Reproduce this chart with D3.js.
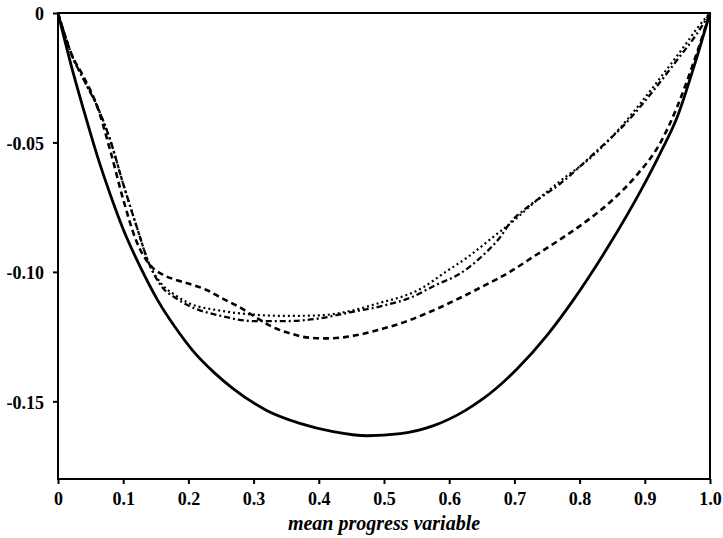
<!DOCTYPE html>
<html>
<head>
<meta charset="utf-8">
<script src="https://cdn.jsdelivr.net/npm/d3@7"></script>
<style>
  body { margin: 0; background: #fff; }
</style>
</head>
<body>
<script>
// values
let xTicks = [0, 0.1, 0.2, 0.3, 0.4, 0.5, 0.6, 0.7, 0.8, 0.9, 1.0];
let yTicks = [0, -0.05, -0.10, -0.15];
let xTickLabels = ['0', '0.1', '0.2', '0.3', '0.4', '0.5', '0.6', '0.7', '0.8', '0.9', '1.0'];
let yTickLabels = ['0', '-0.05', '-0.10', '-0.15'];

let solidX = [0, 0.02, 0.04, 0.06, 0.08, 0.1, 0.126, 0.153, 0.18, 0.207, 0.24, 0.268, 0.32, 0.371, 0.422, 0.474, 0.525, 0.575, 0.625, 0.652, 0.704, 0.75, 0.79, 0.842, 0.893, 0.923, 0.95, 0.975, 1.0];
let solidY = [0, -0.02, -0.038, -0.055, -0.07, -0.0835, -0.098, -0.111, -0.1215, -0.1305, -0.139, -0.145, -0.1535, -0.1585, -0.1617, -0.1633, -0.1625, -0.1595, -0.1535, -0.149, -0.1375, -0.1245, -0.111, -0.091, -0.069, -0.0545, -0.04, -0.021, 0];

let dashedX = [0, 0.02, 0.04, 0.06, 0.08, 0.1, 0.12, 0.14, 0.16, 0.18, 0.2, 0.228, 0.25, 0.279, 0.3, 0.33, 0.36, 0.381, 0.41, 0.44, 0.47, 0.5, 0.53, 0.57, 0.617, 0.65, 0.693, 0.73, 0.77, 0.81, 0.847, 0.888, 0.923, 0.95, 0.975, 1.0];
let dashedY = [0, -0.0155, -0.025, -0.036, -0.053, -0.072, -0.088, -0.097, -0.101, -0.103, -0.1045, -0.107, -0.11, -0.1137, -0.117, -0.1214, -0.124, -0.1253, -0.1257, -0.1252, -0.1238, -0.1218, -0.1195, -0.1155, -0.11, -0.1058, -0.1, -0.094, -0.0875, -0.0805, -0.073, -0.0625, -0.0505, -0.036, -0.019, 0];

let dottedX = [0, 0.01, 0.02, 0.04, 0.06, 0.08, 0.1, 0.12, 0.14, 0.16, 0.18, 0.2, 0.25, 0.3, 0.35, 0.4, 0.45, 0.5, 0.525, 0.56, 0.591, 0.63, 0.667, 0.7, 0.729, 0.77, 0.821, 0.86, 0.893, 0.93, 0.96, 0.98, 1.0];
let dottedY = [0, -0.008, -0.0155, -0.026, -0.036, -0.049, -0.066, -0.082, -0.097, -0.105, -0.109, -0.112, -0.115, -0.1165, -0.117, -0.1168, -0.115, -0.1115, -0.1098, -0.106, -0.1006, -0.094, -0.0866, -0.08, -0.0735, -0.065, -0.055, -0.045, -0.035, -0.023, -0.013, -0.006, 0];

let dashDotX = [0, 0.01, 0.02, 0.04, 0.06, 0.08, 0.1, 0.12, 0.14, 0.16, 0.18, 0.2, 0.25, 0.3, 0.35, 0.4, 0.45, 0.5, 0.54, 0.58, 0.617, 0.65, 0.678, 0.693, 0.72, 0.77, 0.821, 0.873, 0.91, 0.95, 0.98, 1.0];
let dashDotY = [0, -0.008, -0.0155, -0.026, -0.036, -0.049, -0.066, -0.082, -0.097, -0.106, -0.11, -0.113, -0.117, -0.119, -0.119, -0.118, -0.1155, -0.113, -0.11, -0.105, -0.1006, -0.094, -0.0866, -0.0812, -0.075, -0.066, -0.0545, -0.042, -0.031, -0.018, -0.008, 0];

let width = 723, height = 538;
let padLeft = 58, padRight = 710, padTop = 13, padBottom = 479;

let svg = d3.select('body')
    .append('svg')
    .attr('width', width)
    .attr('height', height)
    .style('background-color', 'white');

let xScale = d3.scaleLinear().domain([0, 1]).range([padLeft, padRight]);
let yScale = d3.scaleLinear().domain([-0.18, 0]).range([padBottom, padTop]);

// frame
svg.append('rect')
    .attr('x', padLeft).attr('y', padTop)
    .attr('width', padRight - padLeft).attr('height', padBottom - padTop)
    .attr('fill', 'none').attr('stroke', '#000').attr('stroke-width', 2);

let xAxis = d3.axisBottom(xScale).tickValues(xTicks)
    .tickFormat((d, i) => xTickLabels[i]).tickSize(5).tickSizeOuter(0);
let yAxis = d3.axisLeft(yScale).tickValues(yTicks)
    .tickFormat((d, i) => yTickLabels[i]).tickSize(5).tickSizeOuter(0);

let gx = svg.append('g')
    .attr('transform', 'translate(0,' + padBottom + ')')
    .call(xAxis)
    .attr('font-family', '"Liberation Serif", serif')
    .attr('font-weight', 'bold')
    .attr('font-size', 18);
gx.select('.domain').remove();
gx.selectAll('.tick line').attr('stroke-width', 2);
gx.selectAll('.tick text').attr('y', 8).attr('dy', '18px').attr('fill', '#000');

let gy = svg.append('g')
    .attr('transform', 'translate(' + padLeft + ',0)')
    .call(yAxis)
    .attr('font-family', '"Liberation Serif", serif')
    .attr('font-weight', 'bold')
    .attr('font-size', 18);
gy.select('.domain').remove();
gy.selectAll('.tick line').attr('stroke-width', 2);
gy.selectAll('.tick text').attr('x', -14).attr('dy', '0.38em').attr('fill', '#000');

let line = d3.line()
    .x(d => xScale(d[0]))
    .y(d => yScale(d[1]))
    .curve(d3.curveMonotoneX);

let series = [
    { xs: solidX, ys: solidY, dash: null, w: 2.8 },
    { xs: dashedX, ys: dashedY, dash: '6,4', w: 2.6 },
    { xs: dashDotX, ys: dashDotY, dash: '6,3,2,3', w: 2.3 },
    { xs: dottedX, ys: dottedY, dash: '2,3', w: 2.2 }
];

series.forEach(s => {
    svg.append('path')
        .datum(s.xs.map((x, i) => [x, s.ys[i]]))
        .attr('d', line)
        .attr('fill', 'none')
        .attr('stroke', '#000')
        .attr('stroke-width', s.w)
        .attr('stroke-dasharray', s.dash);
});

svg.append('text')
    .attr('x', (padLeft + padRight) / 2)
    .attr('y', 530)
    .attr('text-anchor', 'middle')
    .style('font-family', '"Liberation Serif", serif')
    .style('font-weight', 'bold')
    .style('font-style', 'italic')
    .style('font-size', '20px')
    .text('mean progress variable');
</script>
</body>
</html>
